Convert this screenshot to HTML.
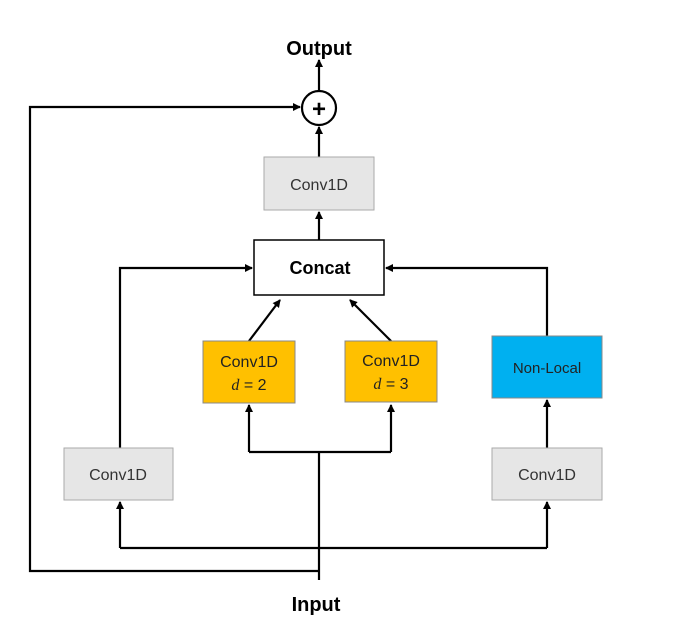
<!DOCTYPE html>
<html><head><style>
body{margin:0;background:#fff;}
svg text{font-family:"Liberation Sans",sans-serif;}
</style></head><body>
<svg width="695" height="630" viewBox="0 0 695 630" xmlns="http://www.w3.org/2000/svg">
<defs><marker id="a" markerWidth="8" markerHeight="8" refX="7" refY="4" orient="auto" markerUnits="userSpaceOnUse"><path d="M0,0 L8,4 L0,8 z" fill="#000"/></marker></defs>
<g stroke="#000" stroke-width="2.2" fill="none">
<line x1="319" y1="90" x2="319" y2="60" marker-end="url(#a)"/>
<line x1="319" y1="157" x2="319" y2="127" marker-end="url(#a)"/>
<line x1="319" y1="240" x2="319" y2="212" marker-end="url(#a)"/>
<line x1="249" y1="341" x2="280" y2="300" marker-end="url(#a)"/>
<line x1="391" y1="341" x2="350" y2="300" marker-end="url(#a)"/>
<polyline points="249,452 249,405" marker-end="url(#a)"/>
<polyline points="391,452 391,405" marker-end="url(#a)"/>
<polyline points="249,452 391,452"/>
<polyline points="319,580 319,452"/>
<polyline points="120,448 120,268 252,268" marker-end="url(#a)"/>
<polyline points="547,336 547,268 386,268" marker-end="url(#a)"/>
<line x1="547" y1="448" x2="547" y2="400" marker-end="url(#a)"/>
<polyline points="120,548 547,548"/>
<line x1="120" y1="548" x2="120" y2="502" marker-end="url(#a)"/>
<line x1="547" y1="548" x2="547" y2="502" marker-end="url(#a)"/>
<polyline points="319,571 30,571 30,107 300,107" marker-end="url(#a)"/>
</g>
<circle cx="319" cy="108" r="17" fill="#fff" stroke="#000" stroke-width="2.2"/>
<text x="319" y="117" font-size="24" font-weight="bold" text-anchor="middle">+</text>
<rect x="264" y="157" width="110" height="53" fill="#e6e6e6" stroke="#aaa"/>
<text x="319" y="190" font-size="16" text-anchor="middle" fill="#333">Conv1D</text>
<rect x="254" y="240" width="130" height="55" fill="#fff" stroke="#000" stroke-width="1.5"/>
<text x="320" y="274" font-size="18" font-weight="bold" text-anchor="middle">Concat</text>
<rect x="203" y="341" width="92" height="62" fill="#ffc000" stroke="#888"/>
<text x="249" y="367" font-size="16" text-anchor="middle" fill="#222">Conv1D</text>
<text x="249" y="390" font-size="16" text-anchor="middle" fill="#222"><tspan font-style="italic" font-family="Liberation Serif">d</tspan> = 2</text>
<rect x="345" y="341" width="92" height="61" fill="#ffc000" stroke="#888"/>
<text x="391" y="366" font-size="16" text-anchor="middle" fill="#222">Conv1D</text>
<text x="391" y="389" font-size="16" text-anchor="middle" fill="#222"><tspan font-style="italic" font-family="Liberation Serif">d</tspan> = 3</text>
<rect x="492" y="336" width="110" height="62" fill="#00b0f0" stroke="#888"/>
<text x="547" y="373" font-size="15" text-anchor="middle" fill="#222">Non-Local</text>
<rect x="64" y="448" width="109" height="52" fill="#e6e6e6" stroke="#aaa"/>
<text x="118" y="480" font-size="16" text-anchor="middle" fill="#333">Conv1D</text>
<rect x="492" y="448" width="110" height="52" fill="#e6e6e6" stroke="#aaa"/>
<text x="547" y="480" font-size="16" text-anchor="middle" fill="#333">Conv1D</text>
<text x="319" y="55" font-size="20" font-weight="bold" text-anchor="middle">Output</text>
<text x="316" y="611" font-size="20" font-weight="bold" text-anchor="middle">Input</text>
</svg>
</body></html>
